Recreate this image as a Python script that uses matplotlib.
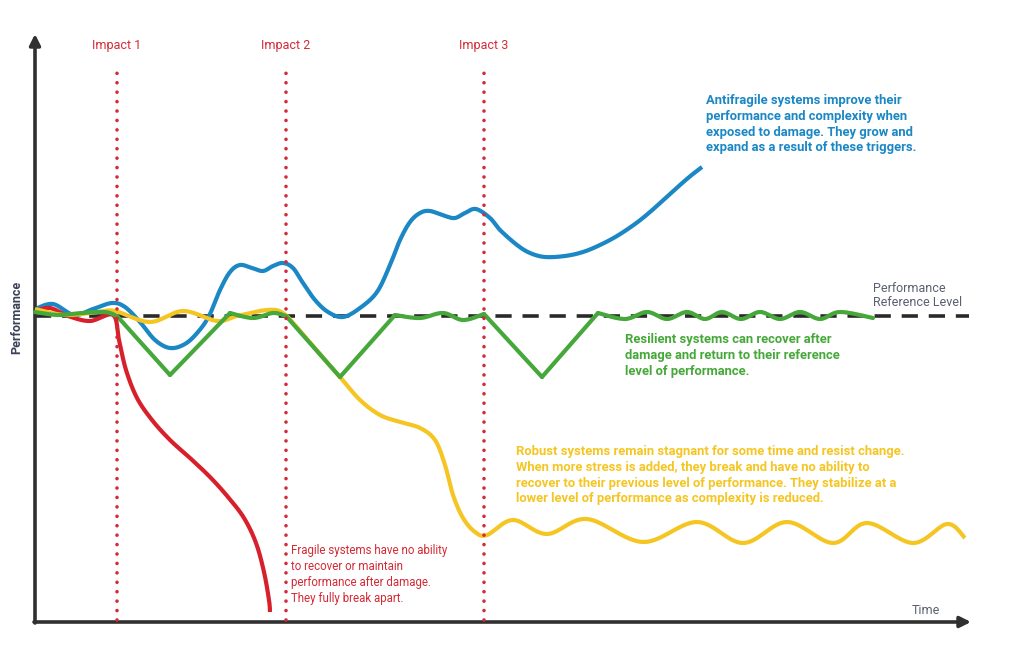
import numpy as np
import matplotlib
matplotlib.use('Agg')
import matplotlib.pyplot as plt

# performance vs time, reference level at 0 (arbitrary units)
blue_t = [0, 18, 39, 58, 77, 90, 105, 120, 135, 150, 163, 174, 185, 195, 205, 217, 228, 238, 248,
          258, 268, 280, 293, 308, 325, 342, 355, 365, 375, 385, 395, 410, 420, 430, 441, 455, 465,
          482, 495, 510, 530, 548, 565, 582, 600, 615, 635, 653, 667]
blue_p = [7, 12, 1, 7, 13, 9, -6, -24, -32, -28, -16, 0, 26, 44, 51, 48, 45, 50, 53,
          48, 33, 16, 4, -1, 8, 24, 51, 76, 94, 103, 105, 100, 98, 103, 107, 98, 86,
          71, 63, 59, 60, 64, 71, 80, 92, 104, 122, 138, 149]

red_t = [0, 15, 33, 55, 78, 84, 91, 102, 117, 135, 155, 175, 193, 209, 221, 229, 234, 235]
red_p = [5, 8, 0, -5, 1, -24, -54, -82, -104, -124, -142, -161, -181, -202, -227, -256, -284, -296]

yellow_t = [0, 30, 63, 80, 115, 148, 182, 202, 232, 248, 265, 285, 305, 325, 345, 365, 385, 400,
            410, 418, 428, 440, 452, 478, 512, 552, 608, 662, 708, 752, 798, 832, 878, 912, 930]
yellow_p = [7, 1, 4, 5, -6, 5, -5, 0, 6, 3, -15, -38, -61, -84, -99, -106, -112, -124,
            -149, -179, -202, -216, -219, -204, -218, -203, -226, -206, -227, -206, -227, -207,
            -227, -208, -222]

green_t = [0, 23, 47, 70, 82, 135, 195, 218, 238, 251, 305, 360, 385, 408, 428, 449, 507, 563,
           590, 612, 632, 652, 670, 687, 706, 725, 745, 765, 785, 805, 838]
green_p = [4, 1, 3, 4, 0, -59, 3, -2, 3, 0, -61, 1, -2, 3, -4, 2, -61, 3,
           -3, 4, -3, 4, -3, 4, -3, 4, -3, 4, -3, 4, -2]
green_corners = [82, 135, 195, 251, 305, 360, 449, 507, 563]

impacts = [82, 251, 449]
impact_labels = ['Impact 1', 'Impact 2', 'Impact 3']

BLUE = '#1b87c5'
RED = '#d7202b'
YELLOW = '#f5c623'
GREEN = '#46a83a'
IMPACT = '#d42a36'
AXIS = '#303030'
FONT = ['Roboto', 'DejaVu Sans']


def smooth(xs, ys, n=16):
    """catmull-rom curve through the points"""
    pts = np.column_stack([xs, ys]).astype(float)
    if len(pts) < 3:
        return pts[:, 0], pts[:, 1]
    p = np.vstack([pts[0], pts, pts[-1]])
    s = np.linspace(0, 1, n, endpoint=False)[:, None]
    out = []
    for i in range(1, len(p) - 2):
        p0, p1, p2, p3 = p[i - 1], p[i], p[i + 1], p[i + 2]
        out.append(0.5 * (2 * p1 + (-p0 + p2) * s
                          + (2 * p0 - 5 * p1 + 4 * p2 - p3) * s ** 2
                          + (-p0 + 3 * p1 - 3 * p2 + p3) * s ** 3))
    out.append(pts[-1:])
    out = np.vstack(out)
    return out[:, 0], out[:, 1]


fig = plt.figure(figsize=(10.24, 6.63), dpi=100)
ax = fig.add_axes([0, 0, 1, 1])
ax.set_xlim(-35, 989)
ax.set_ylim(-347, 316)
ax.axis('off')

# reference level
ax.plot([0, 934], [0, 0], color='#2a2a2a', lw=2.6, dashes=(4.5, 3.0), zorder=1)

lw = 3.0
x, y = smooth(blue_t, blue_p)
ax.plot(x, y, color=BLUE, lw=lw, solid_capstyle='butt', zorder=2)
x, y = smooth(red_t, red_p)
ax.plot(x, y, color=RED, lw=lw, solid_capstyle='butt', zorder=3)
x, y = smooth(yellow_t, yellow_p)
ax.plot(x, y, color=YELLOW, lw=lw, solid_capstyle='butt', zorder=4)

# green: straight drops/recoveries between corners, smooth wiggles elsewhere
cuts = [0] + [green_t.index(c) for c in green_corners] + [len(green_t) - 1]
for a, b in zip(cuts[:-1], cuts[1:]):
    x, y = smooth(green_t[a:b + 1], green_p[a:b + 1])
    ax.plot(x, y, color=GREEN, lw=lw, solid_capstyle='round', zorder=5)

# impact lines
for t, lab in zip(impacts, impact_labels):
    ax.plot([t, t], [-304, 251], color=IMPACT, lw=2.6, dashes=(0.01, 2.6),
            dash_capstyle='round', zorder=6)
    ax.text(t, 270, lab, color=IMPACT, fontsize=9, family=FONT, ha='center', va='center')

# axes arrows
arrow = dict(arrowstyle='-|>', lw=2.6, color=AXIS, mutation_scale=16, shrinkA=0, shrinkB=0)
ax.annotate('', xy=(0, 282), xytext=(0, -307), arrowprops=arrow)
ax.annotate('', xy=(936, -306), xytext=(-1, -306), arrowprops=arrow)

ax.text(-18, -1, 'Performance', rotation=90, color='#3b4257', fontsize=9, fontweight='bold',
        family=FONT, ha='center', va='center')
ax.text(891, -295, 'Time', color='#5a6070', fontsize=9, family=FONT, ha='center', va='center')
ax.text(838, 34, 'Performance\nReference Level', color='#5a6070', fontsize=9, family=FONT,
        ha='left', va='top', linespacing=1.15)

note = dict(fontsize=9.4, fontweight='bold', family=FONT, ha='left', va='top', linespacing=1.28)
ax.text(671, 222, 'Antifragile systems improve their\nperformance and complexity when\n'
        'exposed to damage. They grow and\nexpand as a result of these triggers.',
        color=BLUE, **note)
ax.text(590, -17, 'Resilient systems can recover after\ndamage and return to their reference\n'
        'level of performance.', color=GREEN, **note)
ax.text(481, -129, 'Robust systems remain stagnant for some time and resist change.\n'
        'When more stress is added, they break and have no ability to\n'
        'recover to their previous level of performance. They stabilize at a\n'
        'lower level of performance as complexity is reduced.', color=YELLOW, **note)
ax.text(256, -228, 'Fragile systems have no ability\nto recover or maintain\n'
        'performance after damage.\nThey fully break apart.', color=IMPACT,
        fontsize=8.3, family=FONT, ha='left', va='top', linespacing=1.3)

fig.savefig('out.png', dpi=100, facecolor='white')
